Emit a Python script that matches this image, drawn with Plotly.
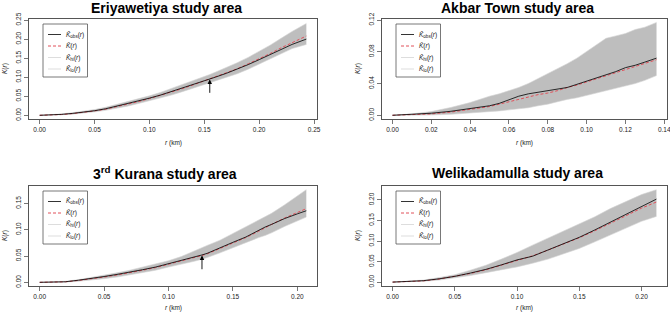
import plotly.graph_objects as go

# ---------------- data ----------------
titles = ["<b>Eriyawetiya study area</b>", "<b>Akbar Town study area</b>",
          "<b>3<sup>rd</sup> Kurana study area</b>", "<b>Welikadamulla study area</b>"]

r1 = [0, 0.01, 0.02, 0.03, 0.04, 0.05, 0.06, 0.07, 0.08, 0.09, 0.10, 0.11, 0.12, 0.13,
      0.14, 0.15, 0.155, 0.16, 0.17, 0.18, 0.19, 0.20, 0.21, 0.22, 0.23, 0.243]
obs1 = [0, 0.0006, 0.0025, 0.005, 0.008, 0.012, 0.017, 0.024, 0.030, 0.037, 0.045, 0.053,
        0.062, 0.071, 0.081, 0.091, 0.095, 0.100, 0.110, 0.121, 0.133, 0.146, 0.160, 0.173,
        0.186, 0.200]
theo1 = [0, 0.0005, 0.002, 0.0045, 0.0075, 0.0115, 0.016, 0.022, 0.029, 0.036, 0.044, 0.052,
         0.061, 0.070, 0.080, 0.090, 0.095, 0.100, 0.111, 0.122, 0.135, 0.148, 0.162, 0.177,
         0.191, 0.208]
hi1 = [0, 0.001, 0.0035, 0.007, 0.0105, 0.015, 0.021, 0.028, 0.035, 0.043, 0.051, 0.060,
       0.070, 0.080, 0.091, 0.102, 0.107, 0.113, 0.125, 0.138, 0.152, 0.167, 0.184, 0.202,
       0.220, 0.241]
lo1 = [0, 0.0003, 0.0015, 0.003, 0.0055, 0.009, 0.013, 0.018, 0.024, 0.031, 0.038, 0.045,
       0.053, 0.062, 0.071, 0.080, 0.085, 0.090, 0.099, 0.109, 0.121, 0.134, 0.147, 0.161,
       0.175, 0.186]

r2 = [0, 0.01, 0.02, 0.03, 0.04, 0.045, 0.05, 0.055, 0.06, 0.065, 0.07, 0.075, 0.08, 0.085,
      0.09, 0.095, 0.10, 0.105, 0.11, 0.115, 0.12, 0.125, 0.13, 0.136]
obs2 = [0, 0.001, 0.0026, 0.005, 0.0085, 0.010, 0.012, 0.015, 0.020, 0.024, 0.027, 0.029,
        0.031, 0.033, 0.035, 0.039, 0.043, 0.047, 0.051, 0.055, 0.060, 0.063, 0.067, 0.072]
theo2 = [0, 0.0005, 0.0017, 0.004, 0.0072, 0.0092, 0.011, 0.014, 0.017, 0.020, 0.023, 0.026,
         0.028, 0.031, 0.035, 0.038, 0.042, 0.046, 0.050, 0.054, 0.058, 0.062, 0.066, 0.070]
hi2 = [0, 0.0017, 0.0047, 0.0098, 0.016, 0.020, 0.024, 0.027, 0.031, 0.035, 0.040, 0.046,
       0.052, 0.058, 0.065, 0.072, 0.080, 0.089, 0.097, 0.100, 0.103, 0.108, 0.111, 0.117]
lo2 = [0, 0, 0.0004, 0.0012, 0.0026, 0.0035, 0.0045, 0.0055, 0.0068, 0.008, 0.0095, 0.012,
       0.014, 0.017, 0.020, 0.022, 0.025, 0.028, 0.031, 0.034, 0.037, 0.040, 0.044, 0.050]

r3 = [0, 0.01, 0.02, 0.03, 0.04, 0.05, 0.06, 0.07, 0.08, 0.09, 0.10, 0.11, 0.12, 0.126,
      0.13, 0.14, 0.15, 0.16, 0.17, 0.175, 0.18, 0.19, 0.20, 0.207]
obs3 = [0, 0.0003, 0.001, 0.004, 0.007, 0.011, 0.015, 0.019, 0.024, 0.029, 0.035, 0.041,
        0.048, 0.052, 0.055, 0.066, 0.076, 0.086, 0.099, 0.105, 0.110, 0.121, 0.130, 0.136]
theo3 = [0, 0.0003, 0.001, 0.0035, 0.0065, 0.010, 0.014, 0.018, 0.023, 0.028, 0.034, 0.040,
         0.047, 0.051, 0.054, 0.064, 0.075, 0.085, 0.097, 0.104, 0.110, 0.122, 0.133, 0.140]
hi3 = [0, 0.0006, 0.002, 0.005, 0.009, 0.013, 0.018, 0.023, 0.029, 0.035, 0.041, 0.049,
       0.060, 0.066, 0.070, 0.080, 0.093, 0.106, 0.118, 0.124, 0.131, 0.147, 0.165, 0.176]
lo3 = [0, 0.0001, 0.0005, 0.002, 0.004, 0.007, 0.010, 0.014, 0.018, 0.023, 0.029, 0.034,
       0.040, 0.044, 0.047, 0.056, 0.066, 0.075, 0.085, 0.089, 0.094, 0.106, 0.117, 0.124]

r4 = [0, 0.0125, 0.025, 0.0375, 0.05, 0.0625, 0.075, 0.0875, 0.10, 0.1125, 0.125, 0.1375,
      0.15, 0.1625, 0.175, 0.1875, 0.20, 0.212]
obs4 = [0, 0.0012, 0.0035, 0.008, 0.014, 0.022, 0.031, 0.042, 0.054, 0.063, 0.078, 0.094,
        0.109, 0.127, 0.146, 0.165, 0.185, 0.202]
theo4 = [0, 0.001, 0.003, 0.0075, 0.0135, 0.021, 0.030, 0.041, 0.053, 0.064, 0.078, 0.093,
         0.108, 0.125, 0.143, 0.161, 0.180, 0.195]
hi4 = [0, 0.0018, 0.005, 0.011, 0.018, 0.029, 0.041, 0.056, 0.072, 0.090, 0.107, 0.124,
       0.140, 0.159, 0.179, 0.197, 0.213, 0.225]
lo4 = [0, 0.0005, 0.002, 0.005, 0.010, 0.016, 0.023, 0.030, 0.037, 0.046, 0.056, 0.069,
       0.082, 0.098, 0.115, 0.131, 0.148, 0.160]

x_ticks = [[0, 0.05, 0.10, 0.15, 0.20, 0.25],
           [0, 0.02, 0.04, 0.06, 0.08, 0.10, 0.12, 0.14],
           [0, 0.05, 0.10, 0.15, 0.20],
           [0, 0.05, 0.10, 0.15, 0.20]]
y_ticks = [[0, 0.05, 0.10, 0.15, 0.20, 0.25],
           [0, 0.04, 0.08, 0.12],
           [0, 0.05, 0.10, 0.15],
           [0, 0.05, 0.10, 0.15, 0.20]]
x_ranges = [[-0.0097, 0.2527], [-0.0054, 0.1414], [-0.0083, 0.2153], [-0.0085, 0.2205]]
y_ranges = [[-0.0097, 0.2527], [-0.0047, 0.1213], [-0.007, 0.183], [-0.0095, 0.234]]

# arrows: (panel index, r, tip K, tail K)
arrows = [(0, 0.155, 0.094, 0.055), (2, 0.126, 0.051, 0.022)]

legend_labels = ["<i>K̂</i><sub>obs</sub>(<i>r</i>)", "<i>K̄</i>(<i>r</i>)",
                 "<i>K̂</i><sub>hi</sub>(<i>r</i>)", "<i>K̂</i><sub>lo</sub>(<i>r</i>)"]

series = [(r1, obs1, theo1, hi1, lo1), (r2, obs2, theo2, hi2, lo2),
          (r3, obs3, theo3, hi3, lo3), (r4, obs4, theo4, hi4, lo4)]

# ---------------- layout helpers ----------------
W, H = 670, 313
boxes = [(29, 317, 19, 119), (382, 667, 19, 119), (29, 317, 186, 286), (382, 667, 186, 286)]
title_pos = [(166, 8), (517, 8), (165, 173), (517, 173)]
xtitle_gap = [24, 24, 22, 22]

FONT = "Liberation Sans, Arial, sans-serif"
AXC = "#555555"
TXC = "#222222"
BAND = "rgb(190,190,190)"
EDGE = "rgb(212,212,212)"
RED = "rgb(225,80,90)"

fig = go.Figure()
annotations = []
shapes = []

for i, (r, obs, theo, hi, lo) in enumerate(series):
    sfx = "" if i == 0 else str(i + 1)
    xa, ya = "x" + sfx, "y" + sfx
    fig.add_trace(go.Scatter(x=r, y=lo, mode="lines", line=dict(color=EDGE, width=0.6),
                             xaxis=xa, yaxis=ya, showlegend=False, hoverinfo="skip"))
    fig.add_trace(go.Scatter(x=r, y=hi, mode="lines", line=dict(color=EDGE, width=0.6),
                             fill="tonexty", fillcolor=BAND,
                             xaxis=xa, yaxis=ya, showlegend=False, hoverinfo="skip"))
    fig.add_trace(go.Scatter(x=r, y=theo, mode="lines",
                             line=dict(color=RED, width=1, dash="3px,2px"),
                             xaxis=xa, yaxis=ya, showlegend=False))
    fig.add_trace(go.Scatter(x=r, y=obs, mode="lines", line=dict(color="black", width=0.8),
                             xaxis=xa, yaxis=ya, showlegend=False))

    x0, x1, y0, y1 = boxes[i]
    pw, ph = x1 - x0, y1 - y0
    xd = [x0 / W, x1 / W]
    yd = [1 - y1 / H, 1 - y0 / H]
    ax_common = dict(showline=True, mirror=True, linecolor=AXC, linewidth=1,
                     ticks="outside", ticklen=4, tickwidth=0.8, tickcolor=AXC,
                     showgrid=False, zeroline=False, tickformat=".2f",
                     automargin=False, ticklabeloverflow="allow",
                     tickfont=dict(family=FONT, size=6.5, color=TXC))
    fig.update_layout(**{
        "xaxis" + sfx: dict(domain=xd, range=x_ranges[i], tickvals=x_ticks[i],
                            anchor=ya, **ax_common),
        "yaxis" + sfx: dict(domain=yd, range=y_ranges[i], tickvals=y_ticks[i],
                            anchor=xa, tickangle=-90, **ax_common),
    })

    # titles
    tx, ty = title_pos[i]
    annotations.append(dict(text=titles[i], x=tx / W, y=1 - ty / H, xref="paper", yref="paper",
                            xanchor="center", yanchor="middle", showarrow=False,
                            font=dict(family=FONT, size=14, color="black")))
    # axis titles
    annotations.append(dict(text="<i>r</i> (km)", x=(x0 + x1) / 2 / W,
                            y=1 - (y1 + xtitle_gap[i]) / H,
                            xref="paper", yref="paper", xanchor="center", yanchor="middle",
                            showarrow=False, font=dict(family=FONT, size=6.5, color=TXC)))
    annotations.append(dict(text="<i>K</i>(<i>r</i>)", x=(x0 - 24) / W, y=1 - (y0 + y1) / 2 / H,
                            xref="paper", yref="paper", xanchor="center", yanchor="middle",
                            textangle=-90, showarrow=False,
                            font=dict(family=FONT, size=6.5, color=TXC)))

    # legend box
    xdom, ydom = xa + " domain", ya + " domain"
    shapes.append(dict(type="rect", xref=xdom, yref=ydom,
                       x0=14 / pw, x1=58.5 / pw, y0=1 - 58 / ph, y1=1 - 5 / ph,
                       line=dict(color=AXC, width=0.8), fillcolor="white", layer="above"))
    entry_y = [15.5, 27, 38.5, 50]
    styles = [dict(color="black", width=0.8), dict(color=RED, width=1, dash="3px,2px"),
              dict(color=EDGE, width=0.8), dict(color=EDGE, width=0.8)]
    for k, lab in enumerate(legend_labels):
        yy = 1 - entry_y[k] / ph
        shapes.append(dict(type="line", xref=xdom, yref=ydom, x0=19 / pw, x1=32 / pw,
                           y0=yy, y1=yy, line=styles[k], layer="above"))
        annotations.append(dict(text=lab, x=35 / pw, y=yy, xref=xdom, yref=ydom,
                                xanchor="left", yanchor="middle", showarrow=False,
                                font=dict(family=FONT, size=6.5, color=TXC)))

for (pi, ar, tip, tail) in arrows:
    sfx = "" if pi == 0 else str(pi + 1)
    annotations.append(dict(x=ar, y=tip, ax=ar, ay=tail, xref="x" + sfx, yref="y" + sfx,
                            axref="x" + sfx, ayref="y" + sfx, text="", showarrow=True,
                            arrowhead=2, arrowsize=1, arrowwidth=0.9, arrowcolor="black"))

fig.update_layout(template="none", width=W, height=H,
                  margin=dict(l=0, r=0, t=0, b=0, pad=0, autoexpand=False),
                  plot_bgcolor="white", paper_bgcolor="white",
                  font=dict(family=FONT, color=TXC),
                  annotations=annotations, shapes=shapes, showlegend=False)

fig.write_html("out.html", config={"displayModeBar": False, "staticPlot": True},
               post_script="document.body.style.margin='0';document.body.style.padding='0';"
                           "document.body.style.overflow='hidden';")
